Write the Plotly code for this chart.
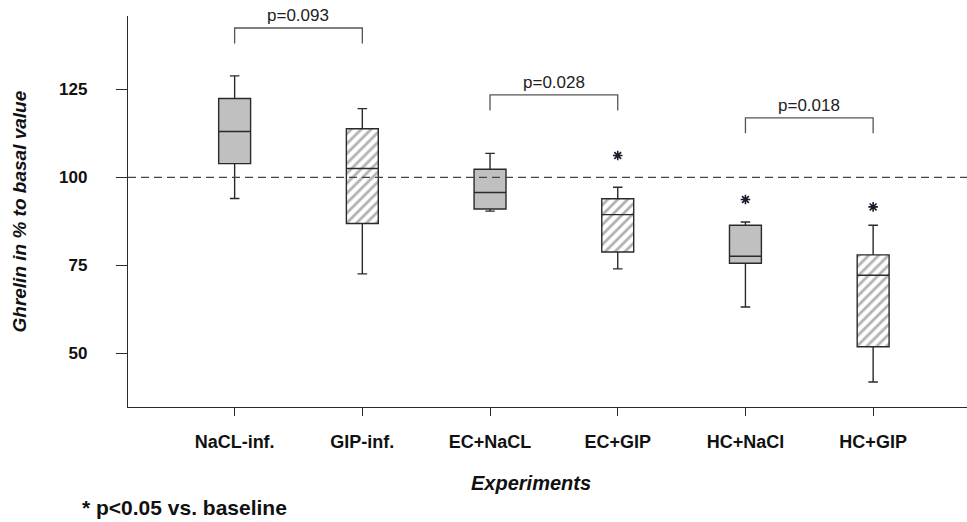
import plotly.graph_objects as go

# ---------------- data ----------------
categories = ["NaCL-inf.", "GIP-inf.", "EC+NaCL", "EC+GIP", "HC+NaCl", "HC+GIP"]

gray_cats = ["NaCL-inf.", "EC+NaCL", "HC+NaCl"]
gray_low = [94.0, 90.4, 63.2]
gray_q1 = [103.9, 91.0, 75.6]
gray_med = [113.0, 95.7, 77.6]
gray_q3 = [122.4, 102.3, 86.4]
gray_high = [128.8, 106.8, 87.3]

hatch_cats = ["GIP-inf.", "EC+GIP", "HC+GIP"]
hatch_low = [72.6, 74.0, 41.9]
hatch_q1 = [86.9, 78.8, 51.9]
hatch_med = [102.5, 89.4, 72.2]
hatch_q3 = [113.8, 93.9, 78.0]
hatch_high = [119.5, 97.2, 86.4]

star_cats = ["EC+GIP", "HC+NaCl", "HC+GIP"]
star_y = [106.2, 93.7, 91.6]

bracket_left = [0, 2, 4]
bracket_right = [1, 3, 5]
bracket_top = [142.4, 123.4, 116.9]
bracket_drop = 4.4
bracket_text = ["p=0.093", "p=0.028", "p=0.018"]

baseline = 100
y_ticks = [50, 75, 100, 125]

# ---------------- figure ----------------
FONT = "Liberation Sans"
LINE = "#2a2a2a"

fig = go.Figure()

# hatched fill of the boxes
fig.add_trace(go.Bar(
    x=hatch_cats,
    base=hatch_q1,
    y=[h - l for h, l in zip(hatch_q3, hatch_q1)],
    width=0.25,
    marker=dict(color="white",
                pattern=dict(shape="/", fgcolor="#666666", bgcolor="white",
                             size=7, solidity=0.4),
                line=dict(width=0)),
    showlegend=False, hoverinfo="skip",
))

fig.add_trace(go.Box(
    x=gray_cats, q1=gray_q1, median=gray_med, q3=gray_q3,
    lowerfence=gray_low, upperfence=gray_high,
    fillcolor="#c0c0c0", line=dict(color=LINE, width=1.4),
    width=0.25, whiskerwidth=0.3, boxpoints=False, showlegend=False,
))
fig.add_trace(go.Box(
    x=hatch_cats, q1=hatch_q1, median=hatch_med, q3=hatch_q3,
    lowerfence=hatch_low, upperfence=hatch_high,
    fillcolor="rgba(0,0,0,0)", line=dict(color=LINE, width=1.4),
    width=0.25, whiskerwidth=0.3, boxpoints=False, showlegend=False,
))

# significance stars
fig.add_trace(go.Scatter(
    x=star_cats, y=star_y, mode="markers",
    marker=dict(symbol="asterisk-open", size=8, color="#1a1a2a",
                line=dict(color="#1a1a2a", width=1.6)),
    showlegend=False, hoverinfo="skip",
))

# brackets with p-values
for l, r, top, txt in zip(bracket_left, bracket_right, bracket_top, bracket_text):
    fig.add_trace(go.Scatter(
        x=[categories[l], categories[l], categories[r], categories[r]],
        y=[top - bracket_drop, top, top, top - bracket_drop],
        mode="lines", line=dict(color="#555555", width=1.3),
        showlegend=False, hoverinfo="skip",
    ))
    fig.add_annotation(
        x=(l + r) / 2, y=top, xref="x", yref="y",
        text=txt, showarrow=False, yanchor="bottom", yshift=1,
        font=dict(family=FONT, size=17, color="#222222"),
    )

# baseline
fig.add_hline(y=baseline, line=dict(color="#444444", width=1.2, dash="8px,5px"))

fig.update_layout(
    width=967, height=522,
    margin=dict(l=128, r=0, t=16, b=115),
    plot_bgcolor="white", paper_bgcolor="white",
    boxmode="overlay", barmode="overlay",
    showlegend=False,
    xaxis=dict(
        type="category", categoryorder="array", categoryarray=categories,
        range=[-0.835, 5.735],
        showline=True, linecolor=LINE, linewidth=1.3,
        ticks="outside", ticklen=8, tickcolor=LINE, tickwidth=1.3,
        tickfont=dict(family=FONT, size=18, color="#111111", weight="bold"),
        ticklabelstandoff=10,
        showgrid=False, zeroline=False,
    ),
    yaxis=dict(
        range=[34.8, 145.8], tickvals=y_ticks,
        showline=True, linecolor=LINE, linewidth=1.3,
        ticks="outside", ticklen=11, tickcolor=LINE, tickwidth=1.3,
        tickfont=dict(family=FONT, size=17, color="#111111", weight="bold"),
        ticklabelstandoff=25,
        showgrid=False, zeroline=False,
    ),
)

# axis titles and footnote
fig.add_annotation(
    text="Ghrelin in % to basal value", xref="paper", yref="paper",
    x=0, y=0.5, xanchor="center", yanchor="middle", xshift=-109,
    textangle=-90, showarrow=False,
    font=dict(family=FONT, size=19, color="#111111", weight="bold", style="italic"),
)
fig.add_annotation(
    text="Experiments", xref="paper", yref="paper",
    x=0.5, y=0, xanchor="center", yanchor="middle", xshift=-17, yshift=-76,
    showarrow=False,
    font=dict(family=FONT, size=20, color="#111111", weight="bold", style="italic"),
)
fig.add_annotation(
    text="* p<0.05 vs. baseline", xref="paper", yref="paper",
    x=0, y=0, xanchor="left", yanchor="middle", xshift=-48, yshift=-100,
    showarrow=False,
    font=dict(family=FONT, size=21, color="#111111", weight="bold"),
)

fig.write_html("out.html", config={"displayModeBar": False})

# remove the default page margin so the figure sits at the window's top-left
with open("out.html", "r", encoding="utf-8") as f:
    html = f.read()
html = html.replace("<head>", "<head><style>html,body{margin:0;padding:0;}</style>", 1)
with open("out.html", "w", encoding="utf-8") as f:
    f.write(html)
